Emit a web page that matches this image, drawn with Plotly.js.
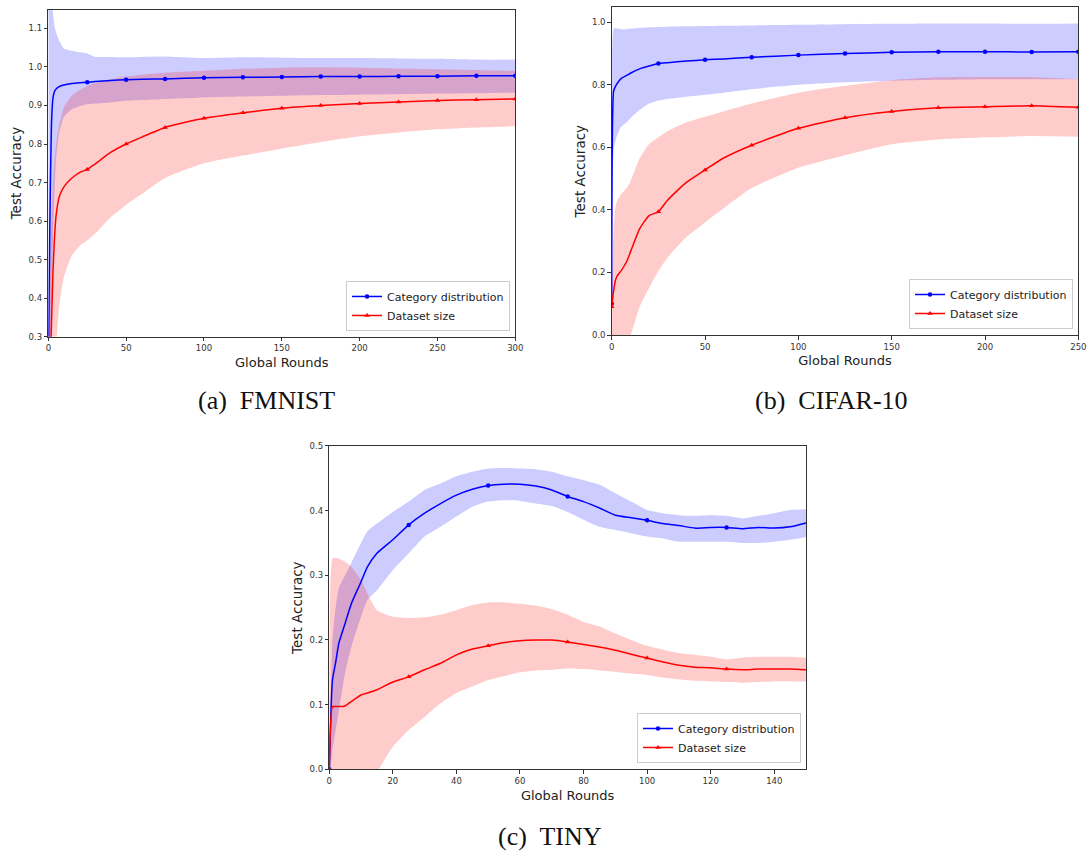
<!DOCTYPE html>
<html>
<head>
<meta charset="utf-8">
<script src="https://cdn.plot.ly/plotly-3.0.1.min.js"></script>
<style>html,body{margin:0;padding:0;background:#fff;}#chart{width:1091px;height:857px;}</style>
</head>
<body>
<div id="chart"></div>
<script>
// ---------- (a) FMNIST ----------
const roundsA = [0,1,2,3,4,5,7,10,15,20,25,30,40,50,60,75,100,125,150,175,200,225,250,275,300];
const catMeanA  = [0.2,0.6,0.85,0.92,0.937,0.943,0.949,0.953,0.957,0.959,0.960,0.962,0.965,0.967,0.968,0.969,0.972,0.973,0.974,0.975,0.975,0.976,0.976,0.977,0.977];
const catUpperA = [1.4,1.3,1.2,1.14,1.105,1.09,1.068,1.048,1.042,1.038,1.035,1.026,1.026,1.025,1.026,1.027,1.023,1.025,1.024,1.023,1.023,1.022,1.021,1.019,1.019];
const catLowerA = [0.0,0.1,0.35,0.55,0.68,0.76,0.83,0.87,0.89,0.898,0.903,0.905,0.908,0.912,0.914,0.917,0.921,0.923,0.925,0.927,0.928,0.929,0.931,0.932,0.933];
const sizeMeanA  = [0.1,0.2,0.33,0.47,0.56,0.615,0.663,0.689,0.711,0.726,0.734,0.748,0.778,0.80,0.818,0.843,0.867,0.881,0.893,0.900,0.905,0.909,0.913,0.915,0.917];
const sizeUpperA = [0.3,0.45,0.6,0.7,0.76,0.8,0.85,0.895,0.925,0.94,0.95,0.958,0.968,0.975,0.98,0.985,0.99,0.995,0.998,0.999,0.998,0.996,0.994,0.992,0.99];
const sizeLowerA = [-0.1,-0.05,0.0,0.1,0.2,0.27,0.38,0.455,0.51,0.535,0.55,0.567,0.61,0.642,0.67,0.712,0.75,0.77,0.788,0.805,0.82,0.83,0.838,0.843,0.846];
const markRoundsA = [0,25,50,75,100,125,150,175,200,225,250,275,300];

// ---------- (b) CIFAR-10 ----------
const roundsB = [0,1,2,3,5,8,10,15,20,25,30,40,50,60,75,100,125,150,175,200,225,250];
const catMeanB  = [0.1,0.78,0.795,0.805,0.82,0.83,0.837,0.851,0.86,0.868,0.871,0.876,0.88,0.883,0.888,0.895,0.9,0.904,0.906,0.906,0.905,0.906];
const catUpperB = [0.3,0.98,0.982,0.98,0.978,0.978,0.98,0.982,0.984,0.985,0.986,0.987,0.988,0.989,0.99,0.992,0.994,0.995,0.996,0.996,0.995,0.996];
const catLowerB = [-0.1,0.59,0.62,0.64,0.665,0.68,0.693,0.72,0.74,0.75,0.755,0.762,0.768,0.775,0.786,0.8,0.808,0.813,0.816,0.818,0.818,0.818];
const sizeMeanB  = [0.09,0.14,0.175,0.19,0.205,0.235,0.265,0.34,0.382,0.394,0.432,0.488,0.528,0.566,0.607,0.661,0.695,0.715,0.727,0.73,0.733,0.728];
const sizeUpperB = [0.12,0.34,0.41,0.43,0.45,0.47,0.49,0.565,0.61,0.632,0.652,0.68,0.698,0.715,0.74,0.775,0.797,0.815,0.824,0.825,0.825,0.818];
const sizeLowerB = [-0.2,-0.15,-0.12,-0.1,-0.07,-0.03,-0.005,0.09,0.15,0.205,0.248,0.313,0.36,0.405,0.47,0.535,0.575,0.61,0.625,0.632,0.636,0.634];
const markRoundsB = [0,25,50,75,100,125,150,175,200,225,250];

// ---------- (c) TINY ----------
const roundsC = [0,1,2,3,5,7,10,12,15,20,25,30,35,40,45,50,55,60,65,70,75,80,85,90,95,100,105,110,115,120,125,130,135,140,145,150];
const catMeanC  = [0.0,0.138,0.165,0.195,0.226,0.257,0.29,0.313,0.334,0.355,0.378,0.396,0.411,0.424,0.433,0.439,0.441,0.441,0.438,0.432,0.422,0.414,0.404,0.393,0.389,0.385,0.38,0.377,0.373,0.374,0.374,0.372,0.374,0.373,0.375,0.381];
const catUpperC = [0.02,0.2,0.25,0.28,0.3,0.32,0.35,0.368,0.38,0.398,0.414,0.432,0.442,0.453,0.46,0.465,0.466,0.465,0.464,0.46,0.453,0.447,0.44,0.427,0.414,0.401,0.396,0.393,0.392,0.393,0.392,0.388,0.392,0.396,0.401,0.402];
const catLowerC = [-0.02,0.03,0.06,0.09,0.15,0.19,0.236,0.262,0.277,0.308,0.334,0.36,0.375,0.391,0.406,0.414,0.416,0.415,0.411,0.407,0.398,0.386,0.375,0.37,0.365,0.36,0.357,0.352,0.352,0.352,0.352,0.35,0.35,0.352,0.355,0.359];
const sizeMeanC  = [0.0,0.097,0.097,0.097,0.098,0.105,0.115,0.118,0.123,0.135,0.143,0.154,0.164,0.177,0.186,0.191,0.196,0.199,0.2,0.2,0.197,0.193,0.189,0.184,0.178,0.172,0.166,0.161,0.158,0.157,0.155,0.154,0.155,0.155,0.155,0.154];
const sizeUpperC = [0.0,0.326,0.327,0.326,0.321,0.313,0.293,0.272,0.246,0.236,0.234,0.235,0.239,0.246,0.254,0.258,0.258,0.256,0.253,0.248,0.239,0.228,0.221,0.21,0.2,0.191,0.185,0.18,0.177,0.174,0.17,0.173,0.174,0.174,0.174,0.173];
const sizeLowerC = [0.0,-0.13,-0.13,-0.13,-0.125,-0.1,-0.065,-0.035,-0.005,0.035,0.061,0.081,0.102,0.118,0.128,0.138,0.144,0.15,0.153,0.154,0.156,0.155,0.153,0.151,0.148,0.146,0.142,0.139,0.137,0.136,0.135,0.134,0.135,0.136,0.136,0.136];
const markRoundsC = [0,25,50,75,100,125];

const seriesNames = ['Category distribution','Dataset size'];
const lineColors = ['#0000ff','#ff0000'];
const bandColors = ['rgba(0,0,255,0.2)','rgba(255,0,0,0.2)'];
const markerSymbols = ['circle','triangle-up'];
const markerSizes = [4.5,5];

const SHAPE = {shape:'spline', smoothing:0.5};

function pick(rounds, vals, marks){ return marks.map(m => vals[rounds.indexOf(m)]); }

const traces = [];
function panel(xa, ya, leg, rounds, cat, size, marks){
  const groups = [cat, size];
  groups.forEach((g, i) => {
    traces.push({x:rounds, y:g.lower, xaxis:xa, yaxis:ya, mode:'lines', line:Object.assign({width:0, color:bandColors[i]}, SHAPE), showlegend:false, hoverinfo:'skip'});
    traces.push({x:rounds, y:g.upper, xaxis:xa, yaxis:ya, mode:'lines', fill:'tonexty', fillcolor:bandColors[i], line:Object.assign({width:0, color:bandColors[i]}, SHAPE), showlegend:false, hoverinfo:'skip'});
  });
  groups.forEach((g, i) => {
    traces.push({x:rounds, y:g.mean, xaxis:xa, yaxis:ya, mode:'lines', line:Object.assign({width:1.5, color:lineColors[i]}, SHAPE), showlegend:false, name:seriesNames[i]});
    traces.push({x:marks, y:pick(rounds, g.mean, marks), xaxis:xa, yaxis:ya, mode:'markers', marker:{symbol:markerSymbols[i], size:markerSizes[i], color:lineColors[i]}, showlegend:false, name:seriesNames[i]});
  });
  groups.forEach((g, i) => {
    traces.push({x:[null], y:[null], xaxis:xa, yaxis:ya, mode:'lines+markers', name:seriesNames[i], legend:leg,
      line:{width:1.5, color:lineColors[i]}, marker:{symbol:markerSymbols[i], size:markerSizes[i], color:lineColors[i]}});
  });
}
panel('x','y','legend', roundsA, {mean:catMeanA, upper:catUpperA, lower:catLowerA}, {mean:sizeMeanA, upper:sizeUpperA, lower:sizeLowerA}, markRoundsA);
panel('x2','y2','legend2', roundsB, {mean:catMeanB, upper:catUpperB, lower:catLowerB}, {mean:sizeMeanB, upper:sizeUpperB, lower:sizeLowerB}, markRoundsB);
panel('x3','y3','legend3', roundsC, {mean:catMeanC, upper:catUpperC, lower:catLowerC}, {mean:sizeMeanC, upper:sizeUpperC, lower:sizeLowerC}, markRoundsC);

const FONT = 'DejaVu Sans, sans-serif';
function xax(domain, anchor, range, dtick){
  return {domain:domain, anchor:anchor, range:range, dtick:dtick, tick0:0, showline:true, mirror:true, linecolor:'#333', linewidth:1,
    ticks:'outside', ticklen:3.5, tickwidth:1, tickcolor:'#333', showgrid:false, zeroline:false,
    tickfont:{family:FONT, size:8.5, color:'#333'},
    title:{text:'Global Rounds', font:{family:FONT, size:13, color:'#222'}, standoff:5}};
}
function yax(domain, anchor, range, dtick, tick0){
  return {domain:domain, anchor:anchor, range:range, dtick:dtick, tick0:tick0, tickformat:'.1f', showline:true, mirror:true, linecolor:'#333', linewidth:1,
    ticks:'outside', ticklen:3.5, tickwidth:1, tickcolor:'#333', showgrid:false, zeroline:false,
    tickfont:{family:FONT, size:8.5, color:'#333'},
    title:{text:'Test Accuracy', font:{family:FONT, size:13.5, color:'#222'}, standoff:3}};
}
function legendAt(x, y){
  return {x:x, y:y, xanchor:'right', yanchor:'bottom', xref:'paper', yref:'paper', bgcolor:'rgba(255,255,255,0.8)', bordercolor:'#cccccc', borderwidth:1,
    font:{family:FONT, size:11, color:'#222'}, traceorder:'normal', tracegroupgap:0, itemwidth:30};
}
const CAP = {family:'Liberation Serif, DejaVu Serif, serif', size:26, color:'#111'};

const layout = {
  width:1091, height:857, margin:{l:0, r:0, t:0, b:0}, paper_bgcolor:'#fff', plot_bgcolor:'#fff', showlegend:true,
  xaxis: xax([0.0443,0.4723], 'y', [0,300], 50),
  yaxis: yax([0.6071,0.9889], 'x', [0.3,1.149], 0.1, 0.3),
  xaxis2: xax([0.5607,0.9884], 'y2', [0,250], 50),
  yaxis2: yax([0.6091,0.9915], 'x2', [0,1.048], 0.2, 0),
  xaxis3: xax([0.3018,0.7388], 'y3', [0,150], 20),
  yaxis3: yax([0.1023,0.4796], 'x3', [0,0.5], 0.1, 0),
  legend: legendAt(0.4675, 0.6138),
  legend2: legendAt(0.9835, 0.6161),
  legend3: legendAt(0.7342, 0.1097),
  annotations: [
    {text:'(a)&nbsp; FMNIST', x:266/1091, y:1-400/857, xref:'paper', yref:'paper', showarrow:false, font:CAP, xanchor:'center', yanchor:'middle'},
    {text:'(b)&nbsp; CIFAR-10', x:831/1091, y:1-400/857, xref:'paper', yref:'paper', showarrow:false, font:CAP, xanchor:'center', yanchor:'middle'},
    {text:'(c)&nbsp; TINY', x:550/1091, y:1-836/857, xref:'paper', yref:'paper', showarrow:false, font:CAP, xanchor:'center', yanchor:'middle'}
  ]
};
Plotly.newPlot('chart', traces, layout, {displayModeBar:false, staticPlot:true});
</script>
</body>
</html>
